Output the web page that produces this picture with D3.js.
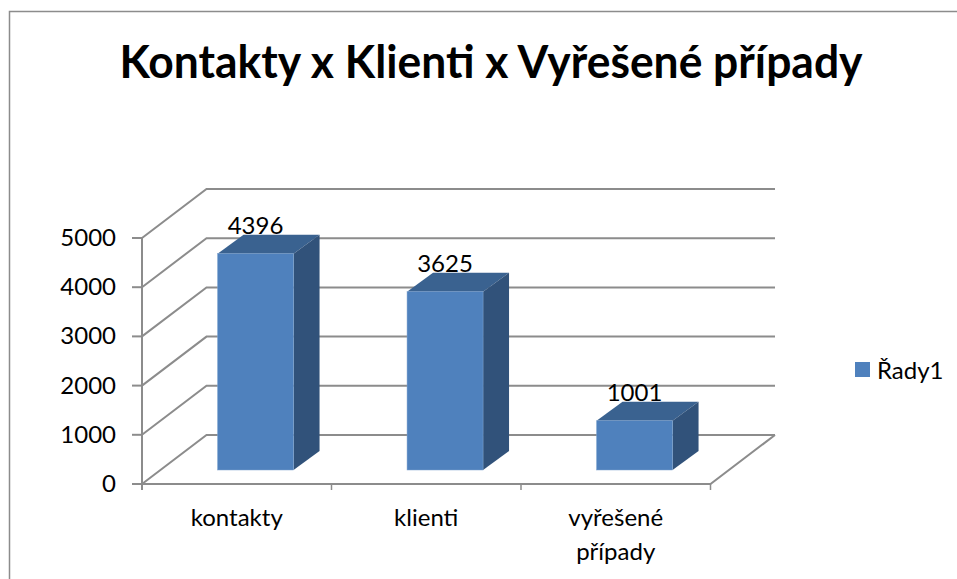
<!DOCTYPE html>
<html><head><meta charset="utf-8">
<style>html,body{margin:0;padding:0;background:#fff}svg{display:block}text{font-family:Lato,"Open Sans",sans-serif;fill:#000}</style>
<script src="https://cdn.jsdelivr.net/npm/d3@7"></script></head>
<body><div id="c"></div>
<script>
const categories = [["kontakty"],["klienti"],["vyřešené","případy"]];
const values = [4396,3625,1001];
const yTicks = [0,1000,2000,3000,4000,5000];
const seriesName = "Řady1";
const titleText = "Kontakty x Klienti x Vyřešené případy";

const W=957,H=579;
const svg=d3.select("#c").append("svg").attr("width",W).attr("height",H);
const gray="#8c8c8c";
const y=d3.scaleLinear().domain([0,5000]).range([484,238]);
const x=d3.scaleBand().domain(d3.range(values.length)).range([142,710.5]);
const dx=64.5,dy=-49;    // depth of the 3D box
const bdx=26,bdy=-19;    // depth of a bar
const barW=76, barOffX=18.8, barOffY=-14;
const fs=24;

// frame
svg.append("path").attr("d",`M${W},11.5H9.5V${H}`).attr("fill","none").attr("stroke",gray).attr("stroke-width",1.5);

// title
svg.append("text").attr("x",491).attr("y",78).attr("text-anchor","middle")
  .attr("font-size",45).attr("font-weight",700).attr("textLength",743).attr("lengthAdjust","spacingAndGlyphs").text(titleText);

// grid
const g=svg.append("g").attr("fill","none").attr("stroke",gray).attr("stroke-width",2);
yTicks.forEach(v=>{
  g.append("path").attr("d",`M${x.range()[0]},${y(v)}L${x.range()[0]+dx},${y(v)+dy}H${x.range()[1]+dx}`);
  g.append("path").attr("d",`M${x.range()[0]-10},${y(v)}H${x.range()[0]}`);
});
g.append("path").attr("d",`M${x.range()[0]},${y(5000)}V${y(0)+6}`);
g.append("path").attr("d",`M${x.range()[0]},${y(0)}H${x.range()[1]}L${x.range()[1]+dx},${y(0)+dy}`);
d3.range(values.length+1).forEach(i=>{
  const px=i<values.length?x(i):x.range()[1];
  g.append("path").attr("stroke-width",1.5).attr("d",`M${px},${y(0)}V${y(0)+6}`);
});

// y labels
svg.append("g").selectAll("text").data(yTicks).join("text")
  .attr("x",116).attr("y",d=>y(d)+8).attr("text-anchor","end").attr("font-size",fs).text(d=>d);

// bars
const bars=svg.append("g").selectAll("g").data(values).join("g");
const bx=(d,i)=>x(i)+(x.bandwidth()-barW)/2+barOffX;
const by0=y(0)+barOffY;
const by=d=>by0-(y(0)-y(d));
bars.append("path").attr("fill","#3A6290").attr("d",(d,i)=>`M${bx(d,i)},${by(d)}l${bdx},${bdy}h${barW}l${-bdx},${-bdy}Z`);
bars.append("path").attr("fill","#31527A").attr("d",(d,i)=>`M${bx(d,i)+barW},${by(d)}l${bdx},${bdy}V${by0+bdy}l${-bdx},${-bdy}Z`);
bars.append("rect").attr("fill","#4F81BD").attr("stroke","#7FA3CF").attr("stroke-width",.5)
  .attr("x",(d,i)=>bx(d,i)).attr("y",by).attr("width",barW).attr("height",d=>by0-by(d));
bars.append("text").attr("x",(d,i)=>bx(d,i)+barW/2).attr("y",d=>by(d)-20).attr("text-anchor","middle")
  .attr("font-size",fs).text(d=>d);

// categories
svg.append("g").selectAll("text").data(categories).join("text")
  .attr("text-anchor","middle").attr("font-size",fs)
  .each(function(lines,i){
    d3.select(this).selectAll("tspan").data(lines).join("tspan")
      .attr("x",x(i)+x.bandwidth()/2).attr("y",(l,k)=>526+k*34).text(l=>l);
  });

// legend
svg.append("rect").attr("x",855).attr("y",362).attr("width",15).attr("height",15).attr("fill","#4F81BD");
svg.append("text").attr("x",877).attr("y",379).attr("font-size",fs).text(seriesName);
</script></body></html>
